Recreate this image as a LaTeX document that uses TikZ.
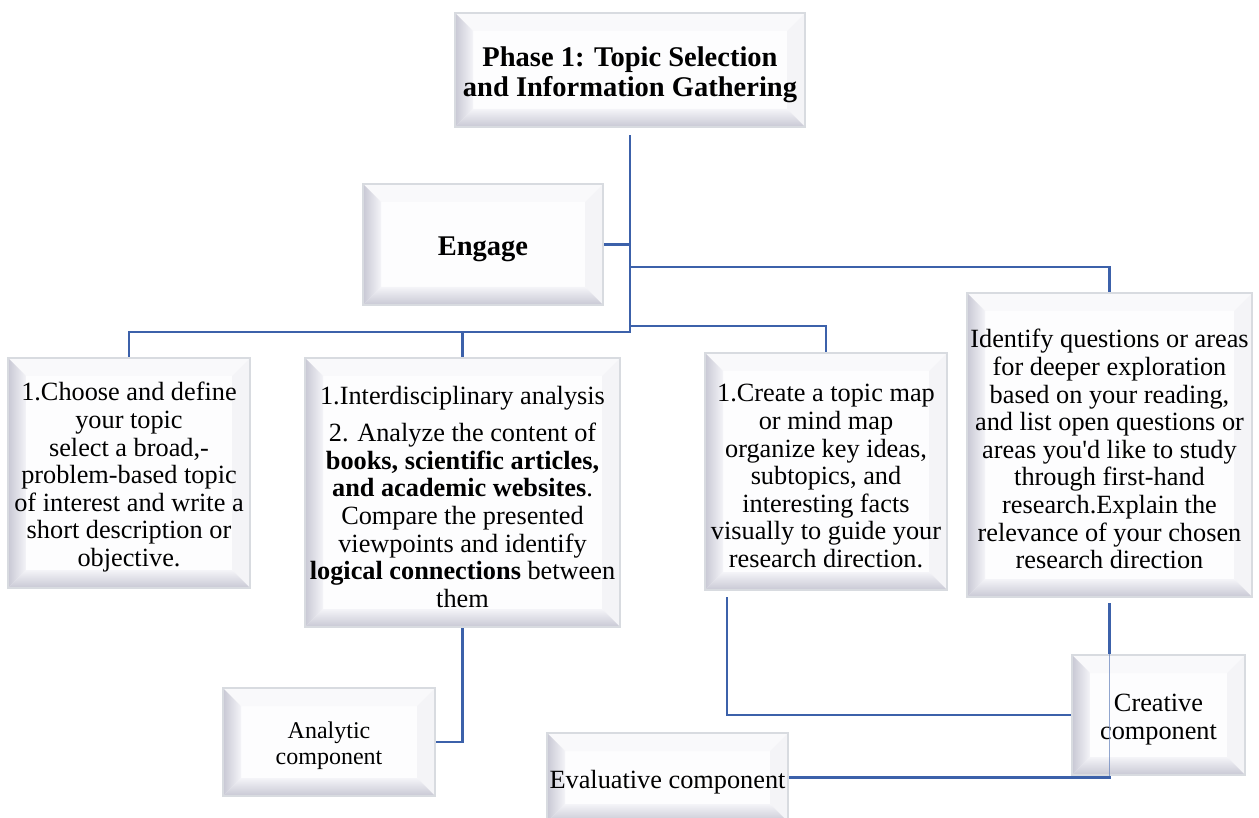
\documentclass[tikz,border=0pt]{standalone}
\usepackage{fontspec}
\setmainfont{Liberation Serif}
\usetikzlibrary{calc,backgrounds}

\definecolor{linkblue}{RGB}{60,97,170}
\definecolor{rimgray}{RGB}{216,219,224}
\definecolor{facecol}{RGB}{253,253,254}
\definecolor{bevdark}{RGB}{200,200,212}
\definecolor{bevlight}{RGB}{244,244,248}
\definecolor{bevtop}{RGB}{249,249,251}
\definecolor{bevright}{RGB}{244,244,247}

\newcommand{\bodyfont}{\fontsize{26.3}{27.6}\selectfont}
\newcommand{\smallbodyfont}{\fontsize{24}{25.5}\selectfont}
\newcommand{\headfont}{\fontsize{28.5}{30.5}\selectfont\bfseries}
% a tall first line sets each text block a little below the middle
\newcommand{\firstline}{\rule{0pt}{1.02em}}

\tikzset{
  bevelbox/.style={rectangle, draw=rimgray, line width=2.6pt, fill=facecol,
    inner sep=0pt, align=center, font=\bodyfont, text=black,
    path picture={
      % outer and inner corners of the bevelled frame
      \coordinate (bvA) at (path picture bounding box.south west);
      \coordinate (bvC) at (path picture bounding box.north east);
      \coordinate (bvB) at (bvA -| bvC);
      \coordinate (bvD) at (bvC -| bvA);
      \coordinate (bva) at ($(bvA)+(18pt,18pt)$);
      \coordinate (bvb) at ($(bvB)+(-18pt,18pt)$);
      \coordinate (bvc) at ($(bvC)+(-18pt,-18pt)$);
      \coordinate (bvd) at ($(bvD)+(18pt,-18pt)$);
      % lit faces (top, right) and shaded faces (bottom, left)
      \fill[bevtop] (bvD) -- (bvC) -- (bvc) -- (bvd) -- cycle;
      \fill[bevright] (bvB) -- (bvC) -- (bvc) -- (bvb) -- cycle;
      \shade[top color=bevlight, bottom color=bevdark] (bvA) -- (bvB) -- (bvb) -- (bva) -- cycle;
      \shade[left color=bevdark, right color=bevlight] (bvA) -- (bvD) -- (bvd) -- (bva) -- cycle;
    }},
  conn/.style={draw=linkblue, line width=2.8pt},
  connfaint/.style={draw=linkblue!75, line width=1.3pt, opacity=0.75}
}

\begin{document}
\begin{tikzpicture}[x=1pt, y=-1pt]
\useasboundingbox (0,0) rectangle (1259,818);
\clip (0,0) rectangle (1259,818);

% boxes
\node[bevelbox, font=\headfont, minimum width=350pt, minimum height=114pt] (phase) at (630,70)
  {\firstline Phase 1: Topic Selection\\and Information Gathering};
\node[bevelbox, font=\headfont, minimum width=240pt, minimum height=121pt] (engage) at (483,244.5)
  {\firstline Engage};

\node[bevelbox, minimum width=242pt, minimum height=230pt] (box1) at (129,473)
  {\firstline 1.Choose and define\\your topic\\select a broad,-\\problem-based topic\\of interest and write a\\short description or\\objective.};
\node[bevelbox, minimum width=315pt, minimum height=269pt] (box2) at (462.5,492.5)
  {\firstline 1.Interdisciplinary analysis\\[10pt]2. Analyze the content of\\\textbf{books, scientific articles,}\\\textbf{and academic websites}.\\Compare the presented\\viewpoints and identify\\\textbf{logical connections} between\\them};
\node[bevelbox, minimum width=242pt, minimum height=237pt] (box3) at (826,471.5)
  {\firstline 1.Create a topic map\\or mind map\\organize key ideas,\\subtopics, and\\interesting facts\\visually to guide your\\research direction.};
\node[bevelbox, minimum width=285pt, minimum height=304pt] (box4) at (1109.5,445)
  {\firstline Identify questions or areas\\for deeper exploration\\based on your reading,\\and list open questions or\\areas you\textquotesingle d like to study\\through first-hand\\research.Explain the\\relevance of your chosen\\research direction};

\node[bevelbox, font=\smallbodyfont, minimum width=212pt, minimum height=108pt] (analytic) at (329,742)
  {\firstline Analytic\\component};
\node[bevelbox, minimum width=173pt, minimum height=120pt] (creative) at (1158.5,715)
  {\firstline Creative\\component};
\node[bevelbox, minimum width=241pt, minimum height=89pt] (evaluative) at (667.5,777.5)
  {\firstline Evaluative component};

% bus junctions on the trunk
\coordinate (tbus) at (630,267);
\coordinate (rbus) at (630,326);
\coordinate (lbus) at (630,332);
\coordinate (b3out) at (727,597);

% connectors
\begin{scope}[on background layer]
  \fill[white] (0,0) rectangle (1259,818);
  \draw[conn] ([yshift=-7pt]phase.south) -- (lbus) -| (box1.north);
  \draw[conn] (box2.north |- lbus) -- (box2.north);
  \draw[conn] (rbus) -| (box3.north);
  \draw[conn] (tbus) -| (box4.north);
  \draw[conn] (engage.east) -- (engage.east -| phase.south);
  \draw[conn] (box2.south) |- (analytic.east);
  \draw[conn] (b3out) |- (creative.west);
  \draw[conn] ([yshift=-5pt]box4.south) |- (evaluative.east);
\end{scope}
% the last connector shows through the creative box
\draw[connfaint] (box4.south |- creative.north) -- (box4.south |- creative.south);
\end{tikzpicture}
\end{document}
